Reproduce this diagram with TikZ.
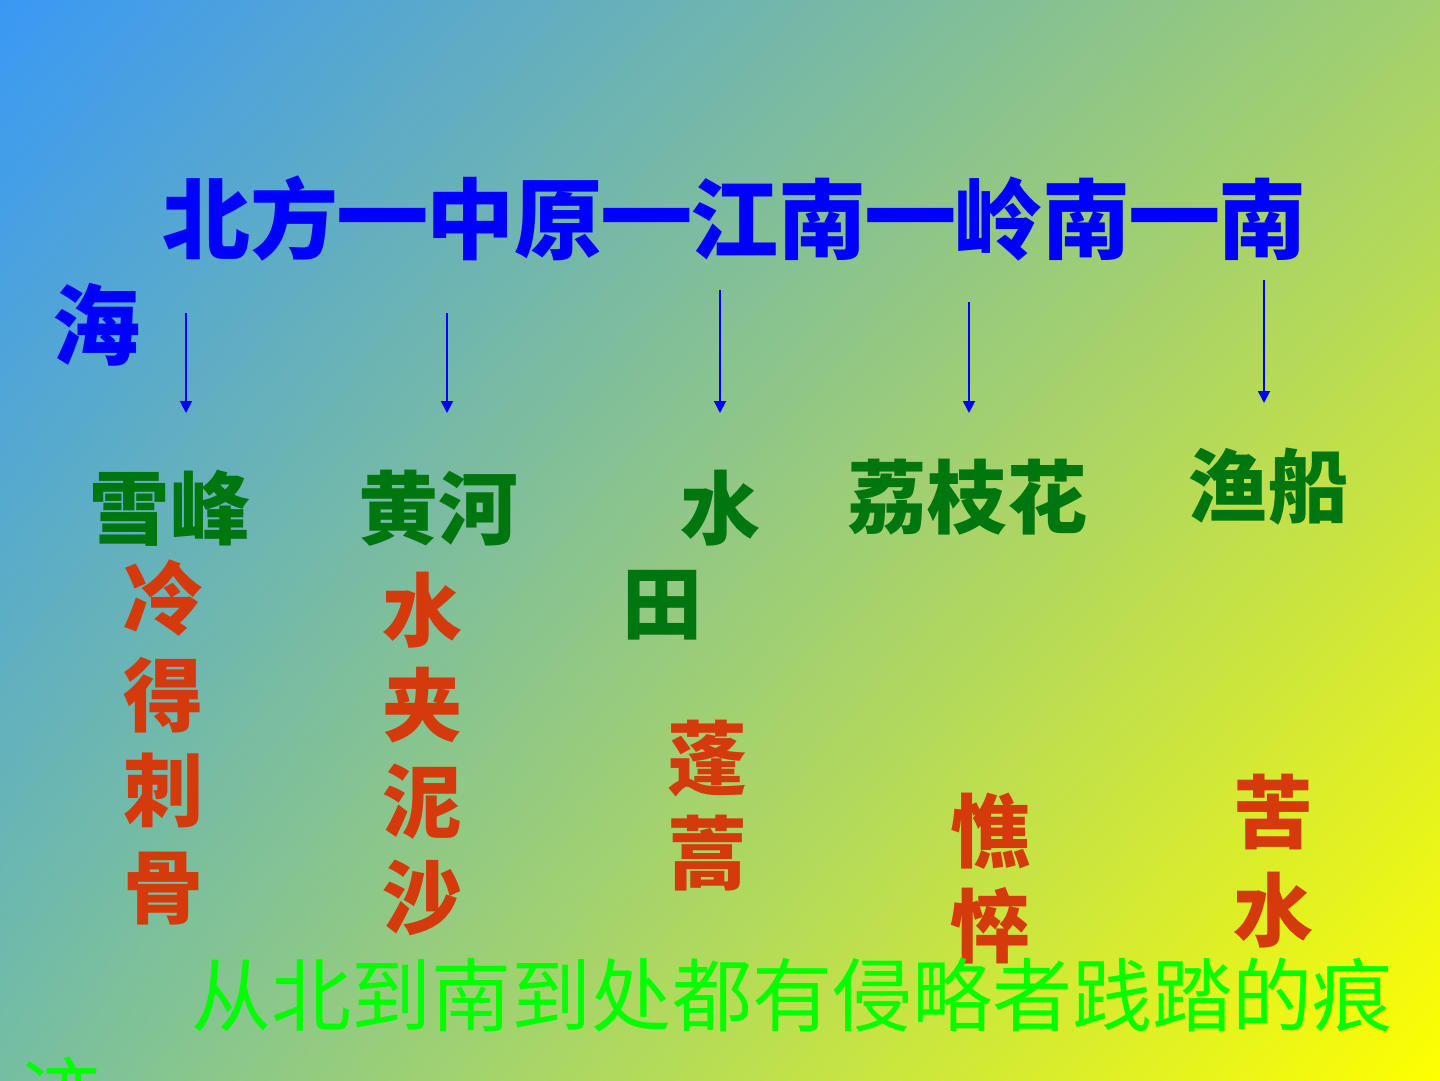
\documentclass[tikz,border=0pt]{standalone}
\usepackage{graphicx}
\usepackage{fontspec}
\setmainfont{Noto Sans CJK SC}
\usetikzlibrary{arrows.meta,shadings}
\definecolor{bgTL}{RGB}{58,152,245}
\definecolor{bgTR}{RGB}{162,208,110}
\definecolor{bgBL}{RGB}{118,190,162}
\definecolor{bgBR}{RGB}{255,255,0}
\definecolor{ttblue}{RGB}{0,0,255}
\definecolor{lbgreen}{RGB}{0,118,14}
\definecolor{lbred}{RGB}{212,58,12}
\definecolor{ftgreen}{RGB}{0,255,0}
\newcommand\fwdash{\makebox[1em][c]{\scalebox{1.2}[1.45]{—}}}
\begin{document}
\begin{tikzpicture}[x=0.5bp,y=-0.5bp,
  titletext/.style={inner sep=0pt, text=ttblue, font=\fontsize{44bp}{52bp}\selectfont\bfseries, text height=38.7bp, text depth=5.3bp},
  placetext/.style={inner sep=0pt, text=lbgreen, font=\fontsize{40bp}{48bp}\selectfont\bfseries, text height=35.2bp, text depth=4.8bp},
  desctext/.style={inner sep=0pt, text=lbred, font=\fontsize{40bp}{48bp}\selectfont\bfseries, text height=35.2bp, text depth=4.8bp},
  foottext/.style={inner sep=0pt, text=ftgreen, font=\fontsize{40bp}{48bp}\selectfont, text height=35.2bp, text depth=4.8bp},
  flowarrow/.style={draw=ttblue, line width=0.9bp, -{Triangle[width=6bp,length=6bp]}}]
\shade[upper left=bgTL, upper right=bgTR, lower left=bgBL, lower right=bgBR] (0,0) rectangle (1440,1080);
\useasboundingbox (0,0) rectangle (1440,1080);
% title
\node[titletext, anchor=west] (title) at (162,219) {北方\fwdash 中原\fwdash 江南\fwdash 岭南\fwdash 南};
\node[titletext] (hai) at (97,325) {海};
% arrows
\coordinate (a1s) at (186,313); \coordinate (a1e) at (186,413);
\coordinate (a2s) at (447,313); \coordinate (a2e) at (447,413);
\coordinate (a3s) at (720,290); \coordinate (a3e) at (720,413);
\coordinate (a4s) at (969,302); \coordinate (a4e) at (969,413);
\coordinate (a5s) at (1264,280); \coordinate (a5e) at (1264,403);
\draw[flowarrow] (a1s) -- (a1e);
\draw[flowarrow] (a2s) -- (a2e);
\draw[flowarrow] (a3s) -- (a3e);
\draw[flowarrow] (a4s) -- (a4e);
\draw[flowarrow] (a5s) -- (a5e);
% places
\node[placetext] (p1) at (170,508) {雪峰};
\node[placetext] (p2) at (438,508) {黄河};
\node[placetext] (p3a) at (720,508) {水};
\node[placetext] (p3b) at (662,603) {田};
\node[placetext] (p4) at (967,497) {荔枝花};
\node[placetext] (p5) at (1268,486) {渔船};
% descriptions
\node[desctext] (d11) at (163,598) {冷};
\node[desctext] (d12) at (163,695) {得};
\node[desctext] (d13) at (163,790) {刺};
\node[desctext] (d14) at (163,887) {骨};
\node[desctext] (d21) at (422,610) {水};
\node[desctext] (d22) at (422,705) {夹};
\node[desctext] (d23) at (422,801) {泥};
\node[desctext] (d24) at (422,897) {沙};
\node[desctext] (d31) at (707,758) {蓬};
\node[desctext] (d32) at (707,853) {蒿};
\node[desctext] (d41) at (990,831) {憔};
\node[desctext] (d42) at (990,926) {悴};
\node[desctext] (d51) at (1273,812) {苦};
\node[desctext] (d52) at (1273,910) {水};
% footer
\node[foottext] (foot) at (792,995) {从北到南到处都有侵略者践踏的痕};
\node[foottext] (foot2) at (61,1094) {迹};
\end{tikzpicture}
\end{document}
